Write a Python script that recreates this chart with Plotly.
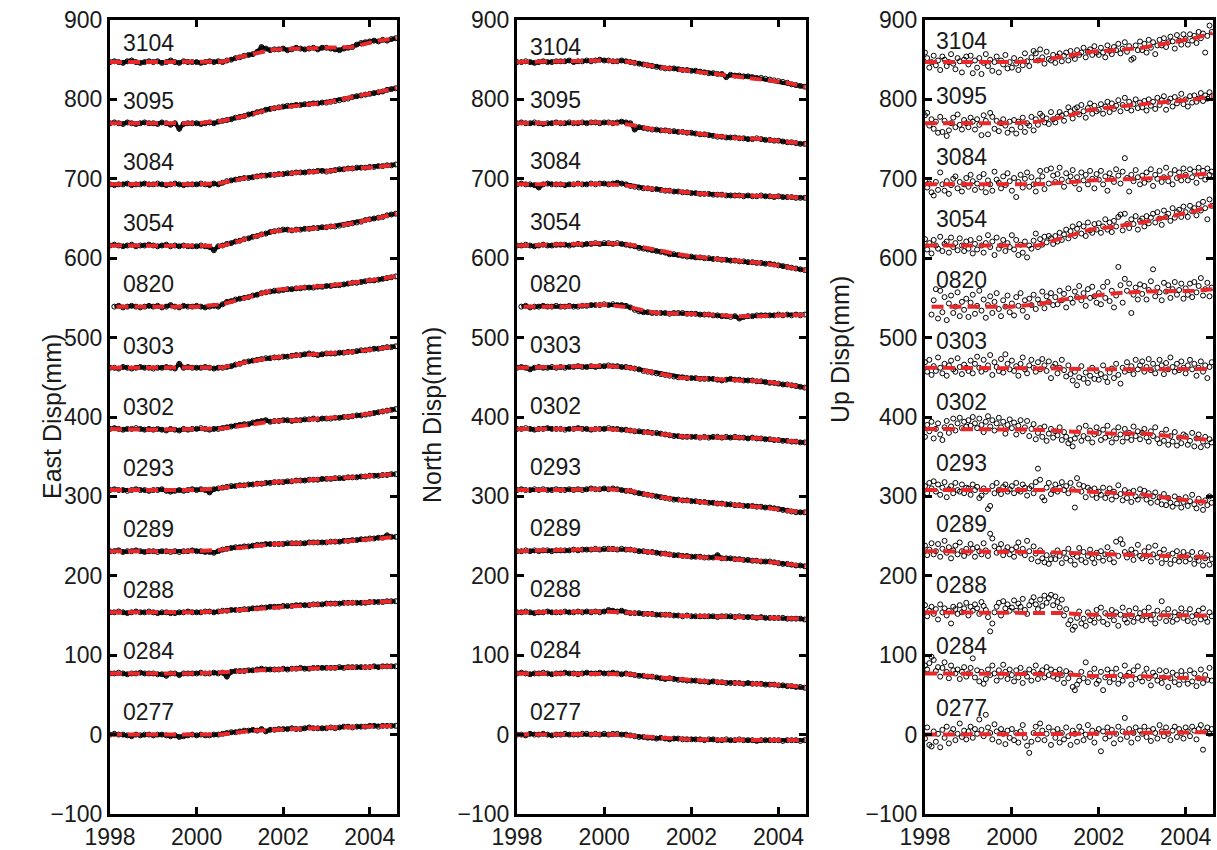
import plotly.graph_objects as go

# ---------------- data ----------------
STATIONS = ["0277", "0284", "0288", "0289", "0293", "0302", "0303", "0820", "3054", "3084", "3095", "3104"]
STATION_OFFSETS = [0, 77, 154, 231, 308, 385, 462, 539, 616, 693, 770, 847]

EN_YEARS = [1998.0, 1998.1, 1998.2, 1998.3, 1998.4, 1998.5, 1998.6, 1998.7, 1998.8, 1998.9,
            1999.0, 1999.1, 1999.2, 1999.3, 1999.4, 1999.5, 1999.6, 1999.7, 1999.8, 1999.9,
            2000.0, 2000.1, 2000.2, 2000.3, 2000.4, 2000.5, 2000.6, 2000.7, 2000.8, 2000.9,
            2001.0, 2001.1, 2001.2, 2001.3, 2001.4, 2001.5, 2001.6, 2001.7, 2001.8, 2001.9,
            2002.0, 2002.1, 2002.2, 2002.3, 2002.4, 2002.5, 2002.6, 2002.7, 2002.8, 2002.9,
            2003.0, 2003.1, 2003.2, 2003.3, 2003.4, 2003.5, 2003.6, 2003.7, 2003.8, 2003.9,
            2004.0, 2004.1, 2004.2, 2004.3, 2004.4, 2004.5, 2004.6]

UP_YEARS = [1998.00, 1998.05, 1998.10, 1998.15, 1998.20, 1998.25, 1998.30, 1998.35, 1998.40, 1998.45,
            1998.50, 1998.55, 1998.60, 1998.65, 1998.70, 1998.75, 1998.80, 1998.85, 1998.90, 1998.95,
            1999.00, 1999.05, 1999.10, 1999.15, 1999.20, 1999.25, 1999.30, 1999.35, 1999.40, 1999.45,
            1999.50, 1999.55, 1999.60, 1999.65, 1999.70, 1999.75, 1999.80, 1999.85, 1999.90, 1999.95,
            2000.00, 2000.05, 2000.10, 2000.15, 2000.20, 2000.25, 2000.30, 2000.35, 2000.40, 2000.45,
            2000.50, 2000.55, 2000.60, 2000.65, 2000.70, 2000.75, 2000.80, 2000.85, 2000.90, 2000.95,
            2001.00, 2001.05, 2001.10, 2001.15, 2001.20, 2001.25, 2001.30, 2001.35, 2001.40, 2001.45,
            2001.50, 2001.55, 2001.60, 2001.65, 2001.70, 2001.75, 2001.80, 2001.85, 2001.90, 2001.95,
            2002.00, 2002.05, 2002.10, 2002.15, 2002.20, 2002.25, 2002.30, 2002.35, 2002.40, 2002.45,
            2002.50, 2002.55, 2002.60, 2002.65, 2002.70, 2002.75, 2002.80, 2002.85, 2002.90, 2002.95,
            2003.00, 2003.05, 2003.10, 2003.15, 2003.20, 2003.25, 2003.30, 2003.35, 2003.40, 2003.45,
            2003.50, 2003.55, 2003.60, 2003.65, 2003.70, 2003.75, 2003.80, 2003.85, 2003.90, 2003.95,
            2004.00, 2004.05, 2004.10, 2004.15, 2004.20, 2004.25, 2004.30, 2004.35, 2004.40, 2004.45,
            2004.50, 2004.55, 2004.60]

FIT_YEARS = [1998.0, 1999.0, 2000.0, 2000.6, 2001.2, 2001.8, 2002.4, 2003.0, 2003.6, 2004.2, 2004.62]
FIT_YEARS_0820 = [1998.15, 1999.0, 2000.0, 2000.6, 2001.2, 2001.8, 2002.4, 2003.0, 2003.6, 2004.2, 2004.62]

# ---- East (mm, relative to station offset) ----
E_0277 = [0, 1, 0, 0, -1, -2, 0, -1, 0, 0,
          -1, 0, 0, -1, -2, -1, -3, -2, -1, 0,
          -1, 0, -1, -1, 0, 0, 1, 2, 3, 3,
          4, 5, 5, 6, 5, 7, 4, 6, 6, 7,
          7, 7, 8, 7, 7, 8, 9, 8, 8, 8,
          8, 9, 8, 9, 10, 10, 9, 10, 10, 10,
          11, 11, 10, 11, 11, 11, 11]
E_0284 = [0, 0, 1, 0, -1, 0, 0, 1, 0, 0,
          0, -1, -1, -3, 0, 0, -2, 0, 0, 0,
          0, 1, 0, 0, 1, 0, 1, -4, 2, 3,
          3, 3, 4, 4, 5, 6, 5, 5, 5, 5,
          6, 5, 6, 6, 7, 6, 6, 7, 7, 7,
          7, 7, 7, 8, 7, 8, 8, 8, 8, 8,
          8, 9, 8, 9, 9, 9, 9]
E_0288 = [0, 0, 1, 0, -1, 0, 1, 0, 0, 1,
          0, -1, 0, 0, -1, -1, 0, 0, 1, 0,
          0, 0, 1, 1, 0, 1, 2, 2, 3, 3,
          3, 4, 4, 5, 5, 6, 6, 7, 7, 7,
          8, 8, 8, 9, 9, 9, 9, 10, 10, 10,
          11, 11, 11, 11, 12, 12, 12, 12, 12, 12,
          13, 13, 13, 13, 14, 14, 14]
E_0289 = [0, 0, 1, -1, 0, 0, 1, 0, -1, 0,
          0, -1, 0, 0, -1, 0, -1, 0, 0, 1,
          0, 0, -1, -1, -2, 0, 2, 3, 4, 5,
          5, 6, 6, 7, 8, 8, 9, 9, 9, 9,
          9, 10, 10, 10, 10, 10, 11, 11, 11, 11,
          11, 12, 12, 12, 13, 13, 14, 14, 15, 15,
          16, 16, 17, 17, 20, 18, 18]
E_0293 = [0, 1, 0, 0, -1, 0, 1, 0, 0, -1,
          0, 0, 1, -1, -2, -1, 0, -1, 0, 1,
          0, 1, 0, -3, 1, 2, 3, 4, 5, 5,
          6, 6, 7, 7, 8, 8, 9, 9, 10, 10,
          10, 11, 11, 12, 12, 12, 13, 13, 13, 14,
          14, 14, 15, 15, 15, 16, 16, 16, 17, 17,
          18, 18, 18, 19, 19, 20, 20]
E_0302 = [0, 1, 0, -1, 0, 0, 1, 0, -1, 0,
          -1, 0, -1, -2, 0, -1, -2, 0, -1, 0,
          0, 1, 0, -1, 0, 0, 1, 2, 3, 4,
          5, 6, 6, 8, 9, 10, 11, 9, 10, 10,
          11, 11, 10, 11, 11, 12, 12, 13, 12, 13,
          13, 13, 14, 14, 15, 15, 16, 17, 17, 18,
          19, 20, 21, 22, 23, 24, 25]
E_0303 = [0, 0, -1, 1, 0, -1, 0, 1, 0, 0,
          -1, 0, 0, 1, 0, -1, 5, 0, 1, 0,
          0, 0, 1, 0, -1, 0, 0, 1, 2, 4,
          5, 7, 8, 9, 10, 11, 12, 12, 13, 13,
          14, 14, 15, 16, 16, 17, 18, 17, 16, 17,
          18, 18, 18, 19, 19, 20, 20, 21, 22, 22,
          23, 24, 24, 25, 26, 26, 27]
E_0820 = [None, 0, 1, -1, 0, 1, 0, -1, 0, 1,
          0, 1, -1, 0, 2, 0, -1, 1, 0, 0,
          1, 0, -1, 0, 1, 0, 3, 6, 7, 9,
          10, 11, 12, 14, 15, 17, 18, 19, 20, 20,
          21, 22, 22, 23, 23, 24, 24, 24, 25, 25,
          26, 26, 27, 27, 28, 29, 30, 30, 31, 32,
          33, 33, 34, 35, 36, 37, 38]
E_3054 = [0, 1, 0, -1, 0, 1, -1, 0, 0, 1,
          0, -1, 0, 1, -1, 0, -1, 0, -1, -1,
          -1, 0, -1, -2, -6, -1, 0, 2, 3, 5,
          6, 8, 9, 11, 12, 14, 15, 17, 18, 19,
          20, 20, 19, 20, 20, 21, 21, 22, 22, 23,
          23, 24, 24, 25, 26, 27, 28, 29, 30, 32,
          33, 34, 35, 36, 38, 39, 40]
E_3084 = [0, -1, 0, 0, 1, -1, 0, 0, 1, 0,
          0, 1, 0, -1, 0, 1, 0, -1, 0, 0,
          0, 1, 0, -1, 1, 0, 2, 4, 5, 6,
          7, 8, 8, 9, 10, 11, 11, 12, 12, 13,
          13, 14, 14, 15, 15, 15, 16, 16, 17, 17,
          16, 17, 18, 19, 19, 20, 20, 21, 21, 21,
          22, 22, 23, 23, 24, 24, 25]
E_3095 = [0, 1, 0, -1, 1, 0, -1, 0, 1, 0,
          0, -1, 1, 0, -2, 0, -7, -1, 0, 0,
          0, -1, 0, 1, 0, 2, 3, 4, 5, 7,
          8, 9, 11, 12, 14, 15, 17, 18, 19, 20,
          21, 22, 22, 23, 23, 24, 24, 25, 25, 26,
          26, 27, 28, 29, 30, 31, 33, 34, 35, 36,
          37, 38, 39, 40, 42, 43, 44]
E_3104 = [0, 1, 0, -1, 1, 2, 0, -1, 0, 1,
          0, 1, -1, 0, 2, 0, -1, 1, 0, 0,
          0, -1, 0, 1, 0, 1, 0, 2, 3, 5,
          6, 8, 9, 10, 13, 19, 17, 15, 16, 16,
          17, 15, 16, 18, 17, 16, 17, 18, 16, 18,
          18, 17, 16, 15, 17, 18, 19, 22, 24, 25,
          26, 27, 26, 28, 27, 29, 30]

# ---- North ----
N_0277 = [0, 0, -1, 1, 0, 0, 1, 0, -1, 0,
          0, 1, 0, 0, 0, 1, 1, 0, 1, 0,
          1, 0, 1, 1, 0, 0, -1, -2, -3, -3,
          -4, -4, -5, -4, -5, -6, -5, -5, -6, -6,
          -6, -6, -6, -7, -6, -6, -7, -7, -6, -7,
          -7, -6, -7, -7, -7, -8, -7, -7, -7, -7,
          -7, -8, -7, -7, -7, -8, -7]
N_0284 = [0, 1, 0, -1, 0, 0, 1, 0, -1, 0,
          0, 1, 0, 0, -1, 0, 1, 0, 0, 1,
          0, 0, 1, 0, -1, 0, -1, -2, -3, -3,
          -4, -4, -5, -6, -7, -6, -7, -8, -8, -9,
          -9, -9, -10, -10, -11, -10, -11, -11, -12, -12,
          -12, -12, -13, -12, -13, -13, -13, -14, -14, -14,
          -15, -15, -16, -16, -17, -17, -18]
N_0288 = [0, 0, 1, 0, -1, 0, 0, 1, 0, 0,
          0, 1, 0, 0, 1, 0, 1, 0, 1, 0,
          1, 3, 2, 1, 2, 0, -1, -1, -1, -2,
          -2, -2, -3, -3, -3, -3, -4, -4, -5, -4,
          -5, -5, -5, -5, -5, -5, -6, -5, -5, -5,
          -6, -5, -6, -6, -6, -7, -6, -7, -7, -7,
          -7, -7, -8, -8, -8, -8, -9]
N_0289 = [0, 0, 1, 0, 1, 0, 1, 1, 0, 1,
          1, 1, 1, 2, 1, 2, 2, 2, 3, 2,
          3, 3, 3, 2, 3, 2, 2, 1, 0, 0,
          -1, -1, -2, -3, -3, -4, -5, -5, -6, -6,
          -7, -7, -7, -8, -8, -8, -5, -9, -9, -9,
          -10, -10, -11, -11, -12, -12, -13, -13, -13, -14,
          -15, -16, -16, -17, -18, -18, -19]
N_0293 = [0, 1, 0, 0, 1, 0, 1, 0, 0, 1,
          0, 0, 1, 0, 1, 0, 1, 2, 1, 1,
          2, 1, 2, 1, 0, -1, -1, -3, -4, -5,
          -6, -7, -8, -9, -10, -11, -12, -12, -13, -13,
          -14, -14, -15, -15, -16, -16, -17, -17, -18, -18,
          -19, -19, -20, -20, -20, -21, -21, -22, -22, -23,
          -24, -25, -26, -27, -28, -28, -28]
N_0302 = [0, 0, 1, 0, -1, 0, 0, 1, 0, 0,
          0, -1, 0, 0, 1, 0, 0, -1, 0, 0,
          0, 1, 0, 0, -1, -1, -2, -3, -3, -4,
          -4, -5, -5, -6, -7, -8, -9, -9, -10, -10,
          -10, -10, -11, -10, -11, -10, -10, -11, -10, -11,
          -10, -11, -11, -12, -11, -12, -12, -13, -13, -14,
          -14, -15, -15, -16, -16, -17, -17]
N_0303 = [0, 1, 0, -2, 0, 1, 0, 0, 1, 0,
          1, 0, 1, 1, 2, 1, 1, 2, 1, 2,
          2, 3, 2, 2, 1, 1, 0, -1, -2, -4,
          -5, -6, -7, -8, -9, -10, -11, -12, -12, -13,
          -13, -13, -14, -14, -14, -14, -15, -16, -15, -14,
          -15, -15, -16, -16, -16, -17, -17, -18, -19, -19,
          -20, -21, -21, -22, -23, -24, -25]
N_0820 = [None, 0, 1, -1, 0, 0, 1, 0, 0, 1,
          0, 0, 1, 0, 0, 1, 1, 2, 2, 2,
          3, 2, 3, 2, 2, 1, -1, -4, -6, -7,
          -7, -8, -8, -8, -8, -9, -8, -8, -8, -9,
          -9, -9, -10, -10, -10, -11, -11, -12, -12, -13,
          -12, -15, -13, -12, -12, -11, -11, -11, -11, -11,
          -10, -11, -10, -11, -10, -11, -10]
N_3054 = [0, 0, 1, 0, -1, 0, 1, 0, 0, 1,
          1, 1, 0, 1, 2, 1, 2, 2, 3, 2,
          3, 3, 2, 3, 2, 1, 0, -1, -3, -4,
          -5, -6, -7, -8, -9, -11, -11, -12, -13, -14,
          -14, -15, -15, -16, -16, -17, -17, -18, -18, -19,
          -19, -20, -20, -21, -21, -22, -22, -23, -23, -24,
          -25, -26, -27, -28, -29, -30, -31]
N_3084 = [0, 1, 0, 0, -1, -4, 0, 1, 0, 0,
          0, -1, 0, 0, 1, 0, 0, 1, 0, 1,
          1, 0, 1, 2, 1, 0, -2, -3, -4, -5,
          -5, -6, -6, -7, -8, -8, -9, -9, -10, -10,
          -11, -11, -12, -12, -12, -13, -13, -13, -14, -14,
          -14, -14, -15, -14, -15, -15, -14, -15, -15, -16,
          -15, -16, -16, -16, -17, -17, -17]
N_3095 = [0, 1, 0, 0, 1, 0, -1, 0, 0, 1,
          0, 0, 1, 0, 0, 1, 0, 1, 1, 0,
          1, 1, 0, 1, 2, 1, 0, -8, -5, -6,
          -7, -8, -8, -9, -9, -10, -10, -11, -11, -12,
          -12, -13, -14, -14, -15, -16, -17, -17, -18, -18,
          -18, -19, -19, -20, -20, -19, -20, -21, -21, -22,
          -22, -23, -24, -24, -25, -26, -26]
N_3104 = [0, 0, 1, 0, -1, 0, 1, 0, 0, 1,
          1, 1, 2, 0, 1, 1, 2, 1, 2, 3,
          2, 2, 1, 1, 2, 1, 0, -1, -2, -3,
          -4, -5, -6, -7, -8, -8, -8, -9, -10, -10,
          -11, -11, -12, -13, -14, -14, -15, -15, -19, -16,
          -17, -17, -18, -18, -19, -20, -20, -21, -22, -23,
          -24, -25, -26, -28, -29, -30, -31]

# ---- Up ----
U_0277 = [-5, 9, -13, -15, 4, -9, 1, -16, 6, -4, 10, -11, 2, 7, -7, 1, 14, -3, 5, -6,
          4, 10, -4, 7, 1, 19, 6, -2, 25, 9, 2, -6, 13, 4, -9, 7, 1, -12, 5, -4,
          7, -7, 2, -10, 4, 12, -4, -14, -23, -9, 2, 10, -6, 14, 5, -7, 1, 9, -13, 4,
          -4, 7, -10, 2, -6, 9, -2, -13, 5, 1, -9, 10, 4, -7, 0, 12, -3, 5, -10, 2,
          7, -21, 4, -5, 9, -2, 6, -11, 1, 10, -6, 4, 21, -3, 7, -10, 2, 9, -5, 5,
          1, 10, -3, 5, -8, 7, 2, -5, 12, 4, -2, 9, 1, -7, 5, 10, -3, 7, 2, -5,
          9, 4, -2, 10, 5, -6, 7, 12, -19, 4, 9, 1, 7]
U_0284 = [10, 5, 13, 21, 17, 3, 8, -4, 7, 14, 2, -6, 10, 4, 0, 5, -7, 2, 8, -4,
          0, 7, 19, -5, 4, -10, 2, -13, -7, 5, -2, 10, 0, -9, 4, -4, 11, 2, -7, 5,
          -2, -10, 4, -5, 7, -12, 0, -4, 5, -9, 2, 10, -7, 0, 4, -5, 8, -2, 5, -4,
          2, -7, 5, -2, -12, 3, -6, 0, -17, -21, -14, -9, 2, -6, 14, -11, 0, -4, 6, -13,
          -9, 2, -21, -5, 5, -11, 1, -7, 6, -13, -2, -9, 10, -3, 1, -14, 4, -7, 9, -5,
          -10, -1, 6, -6, -15, 1, -3, -9, 4, -12, -5, 3, -17, -6, 1, -11, -2, -14, 3, -8,
          -2, -13, 4, -10, 0, -16, -6, 5, -12, -2, -8, 7, -9]
U_0288 = [9, -5, 2, 7, -2, 4, -9, 10, 0, 5, -4, 2, -14, 7, 4, -2, 9, 0, 5, 12,
          -4, 7, 2, 10, 5, -2, 13, 8, 3, -6, -24, -14, 0, 7, 12, -4, 14, 5, 10, 2,
          6, 15, 2, 11, 7, 17, 3, -2, 9, 14, 19, 10, 4, 16, 8, 21, 12, 18, 22, 9,
          20, 13, 6, 16, -4, 4, -15, -10, -22, -18, -7, 1, -14, -8, -17, 0, -10, -5, -13, 3,
          -7, 6, -12, -1, -15, -5, 3, -10, 0, -17, -3, 6, -9, -13, 2, -5, -12, 5, -7, -1,
          -10, 1, -5, 6, -9, -3, -14, 2, -7, 14, -1, -11, 4, -5, -12, 0, -9, -3, 5, -7,
          -1, -11, 4, -5, -13, -3, 2, -9, 5, -7, -12, 0, -5]
U_0289 = [7, -5, 2, 10, -4, 0, 9, -7, 3, 13, -2, 5, -9, 1, 7, -4, 11, 0, -6, 3,
          -2, 9, 3, -7, 5, 0, -4, 10, 1, -6, 22, 16, 6, -2, 3, 9, -5, 0, 5, -4,
          2, -7, 5, 11, -2, 3, -5, 13, 0, -10, 6, -3, -13, 1, -9, -14, -5, -16, -10, -3,
          -10, 1, -6, -15, -2, -9, 3, -12, -4, -17, -7, 4, -11, -1, -14, -6, 2, -9, -15, -2,
          -8, 0, -12, -4, 5, -10, -2, -14, 12, -6, 15, 9, -1, -8, -4, 2, -11, -2, 8, -6,
          -9, 0, -6, 5, -13, -4, 7, -8, -2, -15, 2, -10, -5, -16, -3, -11, 0, -13, -7, -1,
          -13, -5, -10, -1, -16, -8, -12, -2, -18, -9, -5, -17, -10]
U_0293 = [5, -4, 9, 2, 11, -2, 7, -6, 3, 10, -9, 1, 5, -4, 9, 0, -2, 7, -4, 3,
          2, -6, 7, 0, 4, -10, -7, 2, -2, -24, -20, 5, -4, 9, 0, -5, 4, 7, -2, 1,
          5, -4, 9, 0, -2, 7, 3, -7, 2, 5, -4, 10, 27, 13, -9, -13, 3, 9, -5, 0,
          7, -2, 3, 10, 0, 5, -4, 9, 1, -22, 15, 7, -2, 5, -9, 3, 0, -6, 2, -10,
          -2, -6, 3, -10, -4, 2, -12, -2, -8, 6, -5, -13, 0, -10, -3, -15, -1, -8, -12, 1,
          -7, -1, -12, -4, -16, -8, -3, -15, -9, -18, -5, -19, -10, -16, -21, -8, -17, -11, -22, -15,
          -9, -20, -14, -6, -18, -23, -11, -16, -25, -13, -19, -8, -16]
U_0302 = [-10, 5, -3, 9, -12, 0, 7, -7, -14, 2, 10, -5, 3, 13, -2, 7, 14, 1, 9, 3,
          11, 4, 15, 7, 1, 13, 5, -4, 9, 16, 3, 11, -2, 7, 14, 2, 9, -6, 5, 12,
          1, 8, -7, 4, 11, -3, 2, 10, -9, 0, 6, -13, -5, 1, -10, 3, -15, -6, 0, -11,
          -3, -8, 2, -14, -4, -10, -18, -14, -22, -12, -6, 1, -15, -9, 4, -12, -2, -17, -7, 2,
          -5, -14, -1, -11, 4, -9, -17, -3, -12, 2, -7, -16, 0, -11, -5, -14, 3, -9, -3, -13,
          -5, 0, -11, -16, -3, -9, 2, -13, -18, -6, -15, -1, -20, -9, -16, -4, -21, -11, -18, -7,
          -9, -20, -15, -5, -22, -12, -7, -23, -16, -10, -21, -13, -17]
U_0303 = [7, -5, 10, -9, 2, -4, 13, 0, -7, 5, -10, 3, 9, -2, -5, 12, 1, -8, 4, 0,
          -4, 9, -7, 5, 14, 0, -5, 10, -2, 3, 16, -9, 7, 1, -4, 11, -6, 17, 5, -2,
          9, -4, 2, -10, 5, 13, -2, -7, 3, 10, 0, -5, 7, -2, 11, 3, -4, 8, -13, 1,
          5, -7, 0, 10, -3, -11, 3, -8, -16, -5, -22, -12, 2, -14, -6, -19, -10, 0, -14, -4,
          -15, -8, 3, -12, -18, -6, -1, -13, 5, -9, -20, 0, -5, 7, -3, 2, -8, 10, -2, 3,
          8, -5, 1, 11, -3, 5, -7, 0, 10, 3, -8, 6, -2, 13, 1, -5, 5, -3, 8, 0,
          -7, 3, 10, -2, 5, -10, 0, 8, -5, 3, -13, 1, 7]
U_0820 = [None, None, None, -10, 8, 22, -15, 20, -7, 12, -17, 4, 14, -8, 0, 18, -12, 6, -4, 10,
          -13, 5, 15, -9, 1, 20, -5, 9, -14, 2, 13, -8, 6, 17, -3, -12, 8, 0, 14, -7,
          4, -11, 12, 1, 17, -5, 8, -13, 10, 2, 15, -3, 9, 4, 19, -2, 13, 6, 17, 2,
          12, 3, 20, 8, 16, -1, 23, 10, 5, 19, 12, 26, 8, 17, 1, 22, 11, 25, 13, 5,
          17, 3, 25, 11, 31, 7, 20, -1, 14, 50, 27, 5, 35, 20, 29, -8, 15, 24, 9, 28,
          16, 26, 9, 21, 32, 47, 13, 24, 18, 8, 30, 19, 27, 11, 22, 31, 15, 21, 29, 10,
          23, 15, 29, 12, 31, 18, 26, 36, 14, 22, 30, 13, 24]
U_3054 = [8, -5, 3, -10, 7, 0, -4, 11, -7, 2, 5, -9, 10, -2, 3, -6, 9, 0, -7, 5,
          -4, 7, -10, 2, -5, 9, 0, -9, 3, 13, -2, 5, -12, 10, -4, 0, 7, -7, 3, -2,
          13, -5, 7, -12, 1, -9, 5, -15, 0, -4, 6, 15, -2, 8, 1, 11, 4, 12, 9, 2,
          12, 5, 16, 7, 14, 20, 9, 18, 24, 12, 21, 27, 15, 24, 12, 29, 19, 16, 27, 20,
          28, 16, 24, 33, 20, 29, 17, 31, 24, 36, 39, 19, 40, 27, 22, 33, 27, 37, 20, 31,
          34, 24, 37, 28, 35, 40, 29, 42, 34, 26, 44, 36, 40, 31, 47, 35, 42, 45, 36, 49,
          42, 36, 50, 43, 47, 38, 52, 44, 55, 47, 33, 58, 50]
U_3084 = [5, -4, 1, -10, -14, 3, -7, 15, 0, -8, 4, -12, -1, 7, 10, -5, 3, -9, 0, 8,
          -3, 12, 4, -7, 1, 9, -4, 13, -10, 5, 0, -8, 16, 6, 2, -5, 10, -1, 14, 4,
          -8, 8, -16, 3, 12, -4, 7, 15, -3, 9, 0, -9, 5, 17, 10, -6, 18, 1, 20, 11,
          3, 13, 21, 6, -3, 14, 4, 10, 18, 1, 9, -6, 15, 5, 12, 0, 17, 7, -5, 13,
          6, 17, 0, 10, -8, 14, 7, 3, 19, 11, 1, 16, 33, 8, -9, 12, 4, 18, 9, 0,
          11, 2, 15, 6, 19, -2, 12, 7, 17, 3, 9, 21, 4, 13, 0, 18, 8, 15, 5, 20,
          12, 5, 19, 9, 16, 2, 21, 10, 17, 6, 20, 12, 16]
U_3095 = [10, 13, -3, 5, -7, 2, -12, 8, -11, 3, -16, -9, 0, 7, -5, 11, -2, -8, 4, 0,
          -5, 7, 2, -8, 5, -2, -15, 10, 3, -14, 13, 8, -7, 3, -10, 0, 5, -3, -12, 2,
          -8, 4, -13, 2, -5, 7, -11, 0, -3, 8, -9, 5, -2, 12, 9, 1, 6, -1, 14, 5,
          1, 8, 14, 10, 3, 12, 20, 15, 6, 18, 20, 11, 23, 15, 7, 19, 25, 12, 22, 15,
          17, 24, 12, 21, 27, 14, 25, 18, 22, 29, 15, 23, 32, 19, 27, 16, 24, 30, 19, 26,
          20, 28, 16, 30, 22, 27, 18, 32, 23, 29, 34, 17, 27, 31, 21, 33, 25, 29, 37, 24,
          30, 21, 34, 26, 35, 27, 31, 38, 28, 35, 31, 39, 34]
U_3104 = [12, 5, -7, 0, 8, -4, 2, -10, 7, 3, -5, 0, 10, -2, -9, 5, 1, -13, 3, 7,
          -3, 8, -14, 2, -7, 5, -15, -1, 10, -5, 3, -11, 0, 7, -13, 2, -3, 9, -8, 0,
          -7, 5, -2, -10, 3, -4, 11, 1, -5, 6, 14, 11, 2, 16, 6, -2, 13, 4, 2, 9,
          -1, 7, 11, 1, 8, 12, 2, 14, 8, 4, 15, 9, 12, 18, 6, 13, 16, 9, 20, 12,
          9, 18, 12, 6, 21, 14, 10, 19, 15, 23, 11, 17, 25, 13, 20, 3, 5, 21, 15, 26,
          15, 23, 12, 28, 18, 25, 10, 21, 28, 21, 30, 19, 25, 32, 26, 17, 34, 27, 22, 35,
          29, 22, 35, 27, 33, 24, 38, 30, 36, 12, 33, 46, 38]

# ---- fitted model (red dashed), values at FIT_YEARS ----
EF_0277 = [0, 0, -1, 0, 4.5, 6.5, 7.5, 8.5, 9.5, 10.5, 11]
EF_0284 = [0, 0, 0, 1.5, 3.5, 5, 6, 7, 7.5, 8.5, 9]
EF_0288 = [0, 0, 0, 1.5, 4, 6.5, 8.5, 10.5, 12, 13, 14]
EF_0289 = [0, 0, 0, 2, 6, 9, 10, 11, 13, 16, 18]
EF_0293 = [0, 0, 0, 3, 6.5, 10, 12, 14, 16, 18, 20]
EF_0302 = [0, -1, 0, 0.5, 5, 10, 11, 13, 16, 21, 25]
EF_0303 = [0, 0, 0, 0.5, 7.5, 13, 16, 18, 20, 24, 27]
EF_0820 = [0, 0, 0, 3, 12, 21, 24, 26, 30, 34, 38]
EF_3054 = [0, -0.5, -1, -0.5, 9, 18, 20, 23, 28, 35, 40]
EF_3084 = [0, 0, 0, 2, 8.5, 12, 15, 16.5, 20, 22, 25]
EF_3095 = [0, 0, 0, 3, 10, 19, 23, 26, 33, 39, 44]
EF_3104 = [0, 0, 0, 0.5, 9, 16, 17, 18, 19, 27, 30]

NF_0277 = [0, 0, 0.5, -1.5, -4, -5.5, -6.5, -6.5, -7, -7, -7]
NF_0284 = [0, 0, 0, -1, -4.5, -7.5, -10, -12, -13, -15, -17.5]
NF_0288 = [0, 0, 1, -0.5, -2.5, -4.5, -5, -5.5, -6.5, -7.5, -8.5]
NF_0289 = [0, 1, 3, 2, -2, -6.5, -8, -10, -12.5, -16, -19]
NF_0293 = [0, 0, 1.5, -1, -8, -13, -16, -19, -21.5, -26, -28]
NF_0302 = [0, 0, 0, -2, -5.5, -9.5, -10.5, -10.5, -12, -15, -17]
NF_0303 = [0, 1, 2.5, 0, -7, -13, -14, -15.5, -17, -21, -25]
NF_0820 = [0, 0, 2.5, -1, -8, -8.5, -10, -12, -12, -10.5, -10.5]
NF_3054 = [0, 1, 3, 1, -6, -12, -16, -19, -22, -27, -31.5]
NF_3084 = [0, 0, 0.5, -2, -6.5, -9.5, -12.5, -14, -14.5, -15.5, -17]
NF_3095 = [0, 0, 1, -2, -8.5, -11, -15, -18.5, -20, -23, -26]
NF_3104 = [0, 1, 2, 0, -6, -10, -14, -17, -21, -26, -31.5]

UF_0277 = [0, 0, 0, 0, 0, 1, 2, 2, 2, 2.5, 3]
UF_0284 = [0, 0, 0, 0, -1, -3, -3, -3.5, -5, -6, -6.7]
UF_0288 = [0, 0, 0, 0, -1, -3, -3, -3, -3, -3.5, -4]
UF_0289 = [0, 0, 0, -1, -2, -3, -3.5, -4, -5, -7, -8.5]
UF_0293 = [0, 0, 0, 0, 0, -2, -4, -5.5, -10, -14, -15]
UF_0302 = [0, 0, 0, -1, -3, -4.5, -6, -5.5, -9, -12, -14.5]
UF_0303 = [0, 0, 0, 0, -1, -2, -2, -1, -1, -1, -1.5]
UF_0820 = [0, 0, 0, 3, 9, 13, 17, 19, 19, 20, 22]
UF_3054 = [0, 0, -1, 0, 10, 20, 24, 29, 36, 43, 51]
UF_3084 = [0, 0, 0, 0, 2, 5, 6, 7, 8.5, 12, 14]
UF_3095 = [0, 0, 0, 2, 8, 17, 21, 24, 27, 30, 34]
UF_3104 = [0, 0, 0, 1.5, 7, 13, 15, 18, 24, 30, 36.5]

PANEL_TITLES = ["East Disp(mm)", "North Disp(mm)", "Up Disp(mm)"]
X_TICKS = [1998, 2000, 2002, 2004]
Y_TICKS = [-100, 0, 100, 200, 300, 400, 500, 600, 700, 800, 900]

# ---------------- figure ----------------
W, H = 1217, 850
FONT = "Liberation Sans, Arial, Helvetica, sans-serif"
RED = "#e8282a"

PANEL_PX = [(110, 397), (517, 806), (925, 1213)]
TOP_PX, BOT_PX = 20, 814
TITLE_X_PX = [52, 432, 840]
TITLE_Y_PX = [417, 415, 350]

G = globals()
fig = go.Figure()

for p, comp in enumerate(["E", "N", "U"]):
    xa = "x" if p == 0 else f"x{p+1}"
    ya = "y" if p == 0 else f"y{p+1}"
    years = UP_YEARS if comp == "U" else EN_YEARS
    for s, off in zip(STATIONS, STATION_OFFSETS):
        vals = G[f"{comp}_{s}"]
        assert len(vals) == len(years), (comp, s, len(vals), len(years))
        yv = [None if v is None else v + off for v in vals]
        if comp == "U":
            fig.add_trace(go.Scatter(
                x=years, y=yv, xaxis=xa, yaxis=ya, mode="markers",
                marker=dict(symbol="circle-open", size=5, color="black",
                            line=dict(width=1, color="black")),
                hoverinfo="skip", showlegend=False))
        else:
            fig.add_trace(go.Scatter(
                x=years, y=yv, xaxis=xa, yaxis=ya, mode="lines+markers",
                line=dict(color="#111111", width=4),
                marker=dict(symbol="circle-open", size=5, color="black",
                            line=dict(width=1, color="black")),
                hoverinfo="skip", showlegend=False))
    for s, off in zip(STATIONS, STATION_OFFSETS):
        fit = G[f"{comp}F_{s}"]
        fx = FIT_YEARS_0820 if s == "0820" else FIT_YEARS
        fig.add_trace(go.Scatter(
            x=fx, y=[v + off for v in fit], xaxis=xa, yaxis=ya, mode="lines",
            line=dict(color=RED, width=4, dash="12px,6px"),
            hoverinfo="skip", showlegend=False))

annotations = []
label_dy = {"E": 28, "N": 29, "U": 34}
label_cap = {"E": 871, "N": 866, "U": 874}
label_x = {"E": 1998.25, "N": 1998.25, "U": 1998.2}
axis_font = dict(family=FONT, size=23, color="#1a1a1a")

layout = dict(
    width=W, height=H, margin=dict(l=0, r=0, t=0, b=0, autoexpand=False),
    paper_bgcolor="white", plot_bgcolor="white", showlegend=False,
)

for p, comp in enumerate(["E", "N", "U"]):
    l, r = PANEL_PX[p]
    xk = "xaxis" if p == 0 else f"xaxis{p+1}"
    yk = "yaxis" if p == 0 else f"yaxis{p+1}"
    xa = "x" if p == 0 else f"x{p+1}"
    ya = "y" if p == 0 else f"y{p+1}"
    layout[xk] = dict(
        domain=[l / W, r / W], anchor=ya, range=[1998, 2004.63], automargin=False,
        tickmode="array", tickvals=X_TICKS, ticktext=[str(t) for t in X_TICKS],
        ticks="inside", ticklen=7, tickwidth=2.5, tickcolor="black",
        showline=True, linewidth=3, linecolor="black", mirror="allticks",
        showgrid=False, zeroline=False, tickfont=axis_font,
    )
    layout[yk] = dict(
        domain=[1 - BOT_PX / H, 1 - TOP_PX / H], anchor=xa, range=[-100, 900], automargin=False,
        tickmode="array", tickvals=Y_TICKS, ticktext=[str(t).replace("-", "\u2212") for t in Y_TICKS],
        ticks="inside", ticklen=7, tickwidth=2.5, tickcolor="black",
        showline=True, linewidth=3, linecolor="black", mirror="allticks",
        showgrid=False, zeroline=False, tickfont=axis_font,
    )
    for s, off in zip(STATIONS, STATION_OFFSETS):
        annotations.append(dict(
            x=label_x[comp], y=min(off + label_dy[comp], label_cap[comp]), xref=xa, yref=ya,
            text=s, showarrow=False, xanchor="left", yanchor="middle",
            font=dict(family=FONT, size=23, color="#1a1a1a")))
    annotations.append(dict(
        x=TITLE_X_PX[p] / W, y=1 - TITLE_Y_PX[p] / H, xref="paper", yref="paper",
        text=PANEL_TITLES[p], textangle=-90, showarrow=False,
        xanchor="center", yanchor="middle",
        font=dict(family=FONT, size=25, color="#1a1a1a")))

layout["annotations"] = annotations
fig.update_layout(**layout)
fig.write_html("out.html")
